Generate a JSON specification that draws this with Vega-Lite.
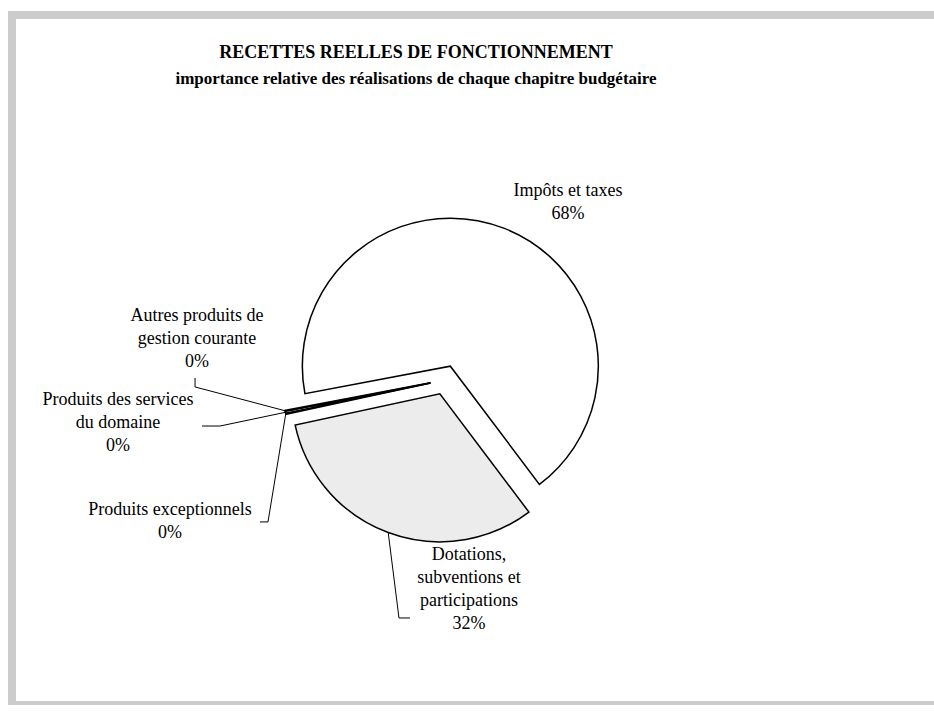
{
  "$schema": "https://vega.github.io/schema/vega-lite/v6.json",
  "width": 922,
  "height": 690,
  "autosize": {"type": "none"},
  "padding": {"left": 12, "top": 15, "right": 0, "bottom": 0},
  "background": "white",
  "view": {"stroke": null},
  "config": {
    "view": {"stroke": null},
    "font": "Liberation Serif",
    "text": {"font": "Liberation Serif"},
    "title": {
      "font": "Liberation Serif",
      "fontSize": 18,
      "fontWeight": "bold",
      "color": "#000000",
      "subtitleFont": "Liberation Serif",
      "subtitleFontSize": 17,
      "subtitleFontWeight": "bold",
      "subtitleColor": "#000000",
      "subtitlePadding": 9
    }
  },
  "title": {
    "text": "RECETTES REELLES DE FONCTIONNEMENT",
    "subtitle": "importance relative des réalisations de chaque chapitre budgétaire",
    "anchor": "middle",
    "frame": "group",
    "dx": -57,
    "offset": -78
  },
  "data": {
    "values": [
      {"categorie": "Dotations, subventions et participations", "valeur": 31.9, "ordre": 1},
      {"categorie": "Produits exceptionnels", "valeur": 0.1, "ordre": 2},
      {"categorie": "Produits des services du domaine", "valeur": 0.2, "ordre": 3},
      {"categorie": "Autres produits de gestion courante", "valeur": 0.1, "ordre": 4},
      {"categorie": "Impôts et taxes", "valeur": 67.7, "ordre": 5}
    ]
  },
  "transform": [
    {"joinaggregate": [{"op": "sum", "field": "valeur", "as": "total"}]},
    {"window": [{"op": "sum", "field": "valeur", "as": "cum"}], "sort": [{"field": "ordre"}], "frame": [null, 0]},
    {"calculate": "2.4958 + (datum.cum - datum.valeur) / datum.total * 2 * PI", "as": "a0"},
    {"calculate": "2.4958 + datum.cum / datum.total * 2 * PI", "as": "a1"},
    {"calculate": "(datum.a0 + datum.a1) / 2", "as": "mid"},
    {"calculate": "0.1 * sin(datum.mid)", "as": "ex"},
    {"calculate": "0.1 * cos(datum.mid)", "as": "ey"},
    {"calculate": "datum.ex + sin(datum.mid)", "as": "px"},
    {"calculate": "datum.ey + cos(datum.mid)", "as": "py"},
    {"calculate": "[0.162, -1.858, -2.209, -1.676, 0.831][datum.ordre - 1]", "as": "lx"},
    {"calculate": "[-1.182, -0.878, -0.135, 0.432, 1.277][datum.ordre - 1]", "as": "ly"},
    {"calculate": "[-0.236, -1.25, -1.642, -1.689, 0][datum.ordre - 1]", "as": "ax"},
    {"calculate": "[-1.608, -0.959, -0.311, 0.0135, 0][datum.ordre - 1]", "as": "ay"},
    {"calculate": "[-0.311, -1.196, -1.52, -1.689, 0][datum.ordre - 1]", "as": "bx"},
    {"calculate": "[-1.608, -0.959, -0.311, -0.047, 0][datum.ordre - 1]", "as": "by"},
    {"calculate": "replace(datum.categorie, regexp(' (?=subventions|participations|gestion|du domaine)', 'g'), '\\n') + '\\n' + format(datum.valeur / datum.total, '.0%')", "as": "etiquette"}
  ],
  "layer": [
    {
      "transform": [{"filter": "datum.ordre == 5"}],
      "mark": {"type": "rule", "stroke": "#cccccc", "strokeWidth": 8, "strokeCap": "square"},
      "encoding": {
        "x": {"value": 0},
        "x2": {"value": {"expr": "width + 10"}},
        "y": {"value": 0},
        "y2": {"value": 0}
      }
    },
    {
      "transform": [{"filter": "datum.ordre == 5"}],
      "mark": {"type": "rule", "stroke": "#cccccc", "strokeWidth": 8, "strokeCap": "square"},
      "encoding": {
        "x": {"value": 0},
        "x2": {"value": {"expr": "width + 10"}},
        "y": {"value": {"expr": "height"}},
        "y2": {"value": {"expr": "height"}}
      }
    },
    {
      "transform": [{"filter": "datum.ordre == 5"}],
      "mark": {"type": "rule", "stroke": "#cccccc", "strokeWidth": 8, "strokeCap": "square"},
      "encoding": {
        "x": {"value": 0},
        "x2": {"value": 0},
        "y": {"value": 0},
        "y2": {"value": {"expr": "height"}}
      }
    },
    {
      "mark": {"type": "arc", "radius": 148, "stroke": "#000000", "strokeWidth": 1.5},
      "encoding": {
        "x": {"field": "ex", "type": "quantitative", "scale": {"domain": [-2.9257, 3.304], "nice": false, "zero": false}, "axis": null},
        "y": {"field": "ey", "type": "quantitative", "scale": {"domain": [-2.196, 2.4662], "nice": false, "zero": false}, "axis": null},
        "theta": {"field": "a0", "type": "quantitative", "scale": null, "stack": null},
        "theta2": {"field": "a1"},
        "color": {
          "field": "categorie",
          "type": "nominal",
          "scale": {
            "domain": ["Dotations, subventions et participations", "Produits exceptionnels", "Produits des services du domaine", "Autres produits de gestion courante", "Impôts et taxes"],
            "range": ["#ececec", "#ffffff", "#ffffff", "#ffffff", "#ffffff"]
          },
          "legend": null
        }
      }
    },
    {
      "transform": [{"filter": "datum.ordre != 5"}],
      "mark": {"type": "rule", "stroke": "#000000", "strokeWidth": 1},
      "encoding": {
        "x": {"field": "bx", "type": "quantitative", "scale": {"domain": [-2.9257, 3.304], "nice": false, "zero": false}, "axis": null},
        "y": {"field": "by", "type": "quantitative", "scale": {"domain": [-2.196, 2.4662], "nice": false, "zero": false}, "axis": null},
        "x2": {"field": "px"},
        "y2": {"field": "py"}
      }
    },
    {
      "transform": [{"filter": "datum.ordre != 5"}],
      "mark": {"type": "rule", "stroke": "#000000", "strokeWidth": 1},
      "encoding": {
        "x": {"field": "ax", "type": "quantitative", "scale": {"domain": [-2.9257, 3.304], "nice": false, "zero": false}, "axis": null},
        "y": {"field": "ay", "type": "quantitative", "scale": {"domain": [-2.196, 2.4662], "nice": false, "zero": false}, "axis": null},
        "x2": {"field": "bx"},
        "y2": {"field": "by"}
      }
    },
    {
      "mark": {"type": "text", "font": "Liberation Serif", "fontSize": 18, "lineHeight": 23, "lineBreak": "\n", "align": "center", "baseline": "middle", "color": "#000000"},
      "encoding": {
        "x": {"field": "lx", "type": "quantitative", "scale": {"domain": [-2.9257, 3.304], "nice": false, "zero": false}, "axis": null},
        "y": {"field": "ly", "type": "quantitative", "scale": {"domain": [-2.196, 2.4662], "nice": false, "zero": false}, "axis": null},
        "text": {"field": "etiquette"}
      }
    }
  ]
}
